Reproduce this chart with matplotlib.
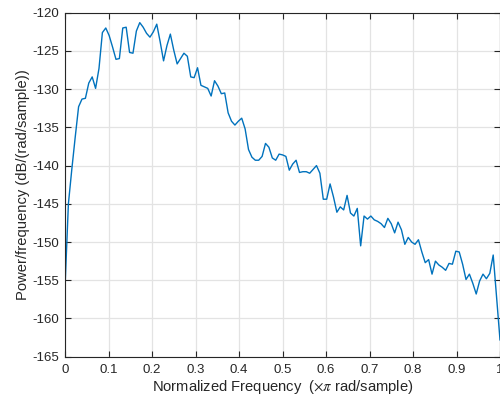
"""PSD estimate (periodogram style) redrawn from the reference picture."""
import matplotlib

matplotlib.use("Agg")
import matplotlib.pyplot as plt
import numpy as np

# --- data (129 bins, 0..1 x pi rad/sample) ----------------------------------
psd_db = [
    -156.0, -145.0, -140.5, -136.3, -132.3, -131.3, -131.2, -129.2, -128.4, -129.9,
    -127.3, -122.6, -122.0, -123.0, -124.5, -126.1, -126.0, -122.0, -121.9, -125.2,
    -125.3, -122.4, -121.3, -121.9, -122.7, -123.2, -122.5, -121.5, -123.8, -126.3,
    -124.3, -122.8, -124.9, -126.7, -126.0, -125.3, -125.7, -128.4, -128.5, -127.2,
    -129.5, -129.7, -129.9, -130.9, -128.9, -129.6, -130.6, -130.5, -133.1, -134.2,
    -134.7, -134.2, -133.8, -135.2, -137.9, -138.9, -139.3, -139.3, -138.8, -137.1,
    -137.6, -139.0, -139.3, -138.5, -138.6, -138.8, -140.6, -139.8, -139.3, -140.9,
    -140.8, -140.8, -141.0, -140.5, -140.0, -141.0, -144.4, -144.4, -142.4, -144.1,
    -146.1, -145.4, -145.8, -143.9, -146.2, -146.6, -145.6, -150.5, -146.6, -147.0,
    -146.6, -147.1, -147.3, -147.6, -148.1, -146.9, -147.6, -148.8, -147.4, -148.4,
    -150.3, -149.4, -150.0, -150.3, -149.7, -151.3, -152.7, -152.3, -154.2, -152.5,
    -153.0, -153.3, -153.7, -152.8, -152.9, -151.2, -151.3, -152.9, -154.9, -154.2,
    -155.4, -156.8, -155.1, -154.2, -154.8, -154.1, -151.7, -157.2, -162.8,
]
freq = np.linspace(0, 1, len(psd_db))

x_ticks = [0, 0.1, 0.2, 0.3, 0.4, 0.5, 0.6, 0.7, 0.8, 0.9, 1]
x_tick_labels = ["0", "0.1", "0.2", "0.3", "0.4", "0.5", "0.6", "0.7", "0.8", "0.9", "1"]
y_ticks = [-165, -160, -155, -150, -145, -140, -135, -130, -125, -120]

plt.rcParams["font.family"] = ["Liberation Sans", "DejaVu Sans"]
plt.rcParams["mathtext.fontset"] = "stix"
plt.rcParams["axes.unicode_minus"] = False

fig = plt.figure(figsize=(5.0, 4.03), dpi=100)
ax = fig.add_axes([0.13, 0.1149, 0.87, 0.8536])

ax.plot(freq, psd_db, color="#0072BD", lw=1.0)

ax.set_xlim(0, 1)
ax.set_ylim(-165, -120)
ax.set_xticks(x_ticks)
ax.set_xticklabels(x_tick_labels)
ax.set_yticks(y_ticks)
ax.grid(True, color="#E3E3E3", lw=0.9)
ax.set_axisbelow(True)

edge = "#262626"
for s in ax.spines.values():
    s.set_color(edge)
    s.set_linewidth(0.8)
ax.tick_params(direction="in", top=True, right=True, length=4, width=0.8,
               color=edge, labelcolor=edge, labelsize=9.5)
ax.tick_params(axis="x", pad=5)
ax.tick_params(axis="y", pad=4)

ax.set_xlabel(r"Normalized Frequency  ($\times\pi$ rad/sample)", fontsize=10.6,
              color=edge, labelpad=2)
ax.set_ylabel("Power/frequency (dB/(rad/sample))", fontsize=10.6, color=edge,
              labelpad=2)

fig.savefig("out.png", dpi=100)
